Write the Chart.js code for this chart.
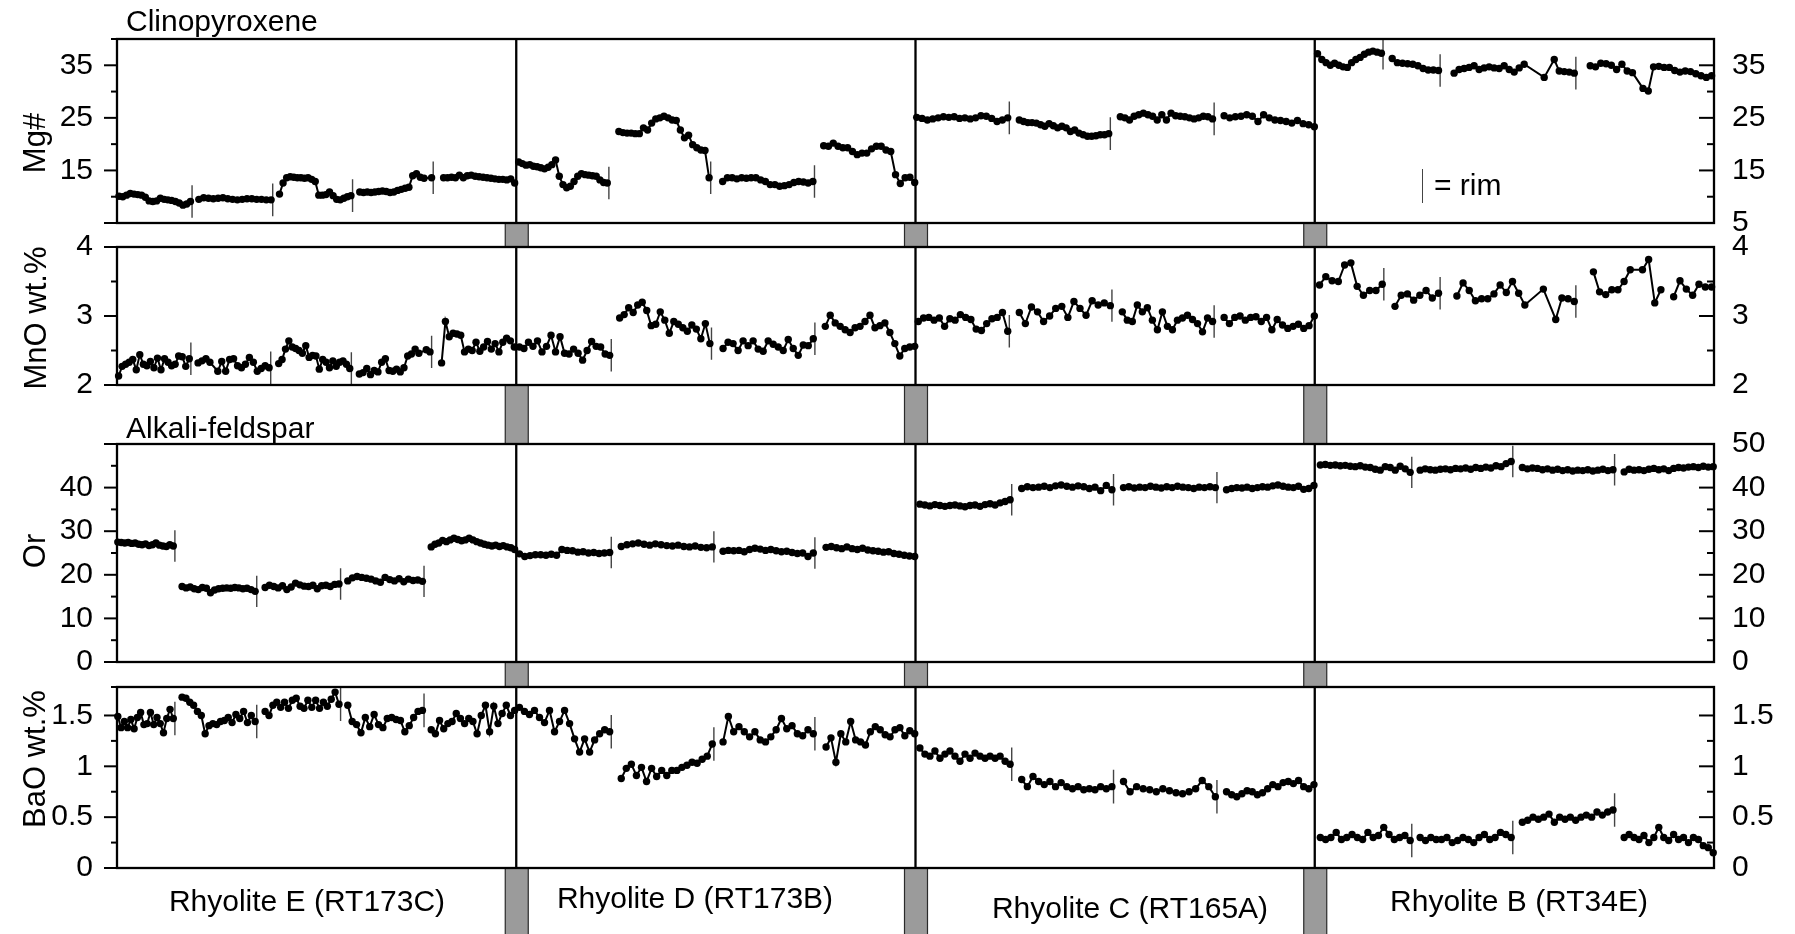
<!DOCTYPE html>
<html>
<head>
<meta charset="utf-8">
<script src="https://cdn.jsdelivr.net/npm/chart.js@4.4.1/dist/chart.umd.min.js"></script>
<style>
  body { margin: 0; background: #fff; width: 1795px; height: 934px; position: relative; overflow: hidden;
         font-family: "Liberation Sans", Arial, Helvetica, sans-serif; }
  canvas { position: absolute; left: 0; }
  .lbl { position: absolute; font-size: 30px; line-height: 1; color: #000; white-space: nowrap; }
  .mid { transform: translateX(-50%); }
  .rot { font-size: 31px; transform: translate(-50%, -50%) rotate(-90deg); }
  .rimkey { position: absolute; width: 0; border-left: 1.5px solid #444; }
</style>
</head>
<body>
<canvas id="mgChart" width="1795" height="235" style="top:0px"></canvas>
<canvas id="mnoChart" width="1795" height="180" style="top:235px"></canvas>
<canvas id="orChart" width="1795" height="260" style="top:415px"></canvas>
<canvas id="baoChart" width="1795" height="259" style="top:675px"></canvas>

<div class="lbl" style="left:126px; top:6px">Clinopyroxene</div>
<div class="lbl" style="left:126px; top:413px">Alkali-feldspar</div>
<div class="lbl rot" style="left:34px; top:143px">Mg#</div>
<div class="lbl rot" style="left:35px; top:318px">MnO wt.%</div>
<div class="lbl rot" style="left:34px; top:551px">Or</div>
<div class="lbl rot" style="left:34px; top:759px">BaO wt.%</div>
<div class="rimkey" style="left:1422px; top:169px; height:34px"></div>
<div class="lbl" style="left:1434px; top:170px">= rim</div>
<div class="lbl mid" style="left:307px; top:886px">Rhyolite E (RT173C)</div>
<div class="lbl mid" style="left:695px; top:883px">Rhyolite D (RT173B)</div>
<div class="lbl mid" style="left:1130px; top:893px">Rhyolite C (RT165A)</div>
<div class="lbl mid" style="left:1519px; top:886px">Rhyolite B (RT34E)</div>

<script>
const FONT = '"Liberation Sans", Arial, Helvetica, sans-serif';

// x runs 0-400, one block of 100 per rhyolite (E, D, C, B)
const sectionEdges = [100, 200, 300];

// clinopyroxene traverses, Mg#
const cpxStart = [0.5, 20.5, 40.7, 60.8, 81.8, 100.6, 125.7, 151.7, 177.0, 200.3, 226.0, 251.3, 277.3, 300.7, 319.4, 334.9, 369.0];
const cpxEnd = [18.4, 38.6, 58.6, 78.8, 99.6, 122.8, 148.3, 174.3, 199.8, 223.1, 248.4, 274.4, 299.9, 316.7, 331.0, 365.0, 399.4];
const cpxRim = [1, 1, 1, 1, 0, 1, 1, 1, 0, 1, 1, 1, 0, 1, 1, 1, 0];
const mgValues = [
  [10.1, 10.0, 10.3, 10.6, 10.5, 10.4, 10.3, 9.9, 9.2, 9.1, 9.2, 9.7, 9.5, 9.4, 9.3, 9.1, 8.8, 8.4, 8.6, 9.1],
  [9.5, 9.8, 9.7, 9.6, 9.7, 9.8, 9.6, 9.5, 9.4, 9.5, 9.6, 9.6, 9.5, 9.5, 9.4, 9.4],
  [10.5, 12.6, 13.6, 13.8, 13.7, 13.6, 13.6, 13.5, 13.6, 13.3, 12.9, 10.3, 10.3, 10.4, 10.9, 10.2, 9.5, 9.4, 9.7, 10.0, 10.2],
  [10.9, 10.8, 10.9, 10.8, 10.9, 11.0, 11.1, 11.0, 10.8, 10.9, 11.2, 11.4, 11.6, 11.8, 14.0, 14.4, 13.7, 13.5, null, 13.6],
  [13.6, 13.6, 13.7, 13.6, 14.1, 13.6, 14.0, 14.1, 13.9, 13.8, 13.7, 13.6, 13.5, 13.4, 13.3, 13.3, 13.2, 13.4, 12.6],
  [16.6, 16.3, 16.0, 16.1, 15.8, 15.7, 15.5, 15.3, 15.6, 16.1, 17.0, 13.9, 12.3, 11.7, 12.0, 12.9, 13.9, 14.4, 14.2, 14.1, 14.0, 13.9, 13.2, 12.7, 12.6],
  [22.4, 22.2, 22.1, 22.1, 22.0, 22.0, 23.1, 22.7, 24.0, 24.8, 25.0, 25.3, 25.0, 24.6, 24.5, 22.7, 21.2, 21.7, 19.9, 19.3, 18.9, 18.8, 13.6],
  [12.9, 13.6, 13.6, 13.4, 13.6, 13.5, 13.6, 13.6, 13.2, 12.9, 12.3, 12.3, 12.0, 12.1, 12.3, 12.7, 12.9, 12.8, 12.6, 12.9],
  [19.7, 19.6, 20.2, 19.6, 19.3, 19.3, 18.6, 18.0, 18.3, 18.3, 19.1, 19.6, 19.6, 18.9, 18.6, 14.2, 12.5, 13.6, 13.7, 12.7],
  [25.1, 24.9, 24.6, 24.8, 25.0, 25.2, 25.1, 25.2, 24.9, 25.0, 24.8, 25.0, 25.4, 25.3, 24.9, 24.3, 24.6, 25.0],
  [24.6, 24.3, 24.1, 24.1, 24.0, 23.7, 23.4, 23.9, 23.5, 23.1, 23.4, 23.1, 22.4, 22.7, 22.1, 21.8, 21.5, 21.5, 21.6, 21.8, 21.8, 22.0],
  [25.2, 25.0, 24.6, 25.3, 25.6, 25.9, 25.6, 25.3, 24.6, 25.6, 24.6, 25.9, 25.4, 25.3, 25.2, 25.0, 24.8, 25.0, 25.3, 25.2, 24.8],
  [25.4, 25.0, 25.2, 25.3, 25.6, 25.3, 24.3, 25.6, 25.0, 24.6, 24.5, 24.3, 24.0, 24.5, 23.9, 23.7, 23.3],
  [37.2, 36.1, 35.5, 35.0, 35.4, 35.0, 34.7, 34.6, 35.5, 36.1, 36.5, 37.1, 37.5, 37.7, 37.5, 37.3],
  [36.3, 35.5, 35.4, 35.3, 35.2, 34.9, 34.4, 34.1, 34.1, 34.0],
  [33.5, 34.2, 34.4, 34.6, 34.9, 34.2, 34.5, 34.7, 34.5, 34.4, 34.9, 34.2, 33.7, 34.5, 35.2, null, null, null, 32.7, null, 36.1, 33.9, 33.8, 33.7, 33.5],
  [34.9, 34.7, 35.4, 35.3, 35.0, 34.2, 35.2, 33.9, 33.6, null, 30.6, 30.1, 34.7, 34.8, 34.6, 34.6, 34.0, 33.7, 33.9, 33.8, 33.4, 33.0, 32.7, 33.0]
];

// clinopyroxene traverses, MnO wt.%
const mnoStart = [0.4, 20.3, 40.5, 60.7, 81.3, 100.8, 125.9, 151.8, 177.4, 200.7, 226.0, 251.8, 277.3, 301.2, 320.1, 335.6, 369.8, 389.9];
const mnoEnd = [18.1, 38.1, 58.3, 78.4, 99.5, 123.4, 148.5, 174.4, 199.8, 223.1, 248.8, 274.4, 299.9, 316.9, 331.0, 365.0, 386.7, 399.4];
const mnoRim = [1, 1, 1, 1, 0, 1, 1, 1, 0, 1, 1, 1, 0, 1, 1, 1, 0, 0];
const mnoValues = [
  [2.13, 2.27, 2.30, 2.33, 2.37, 2.22, 2.44, 2.30, 2.28, 2.34, 2.25, 2.39, 2.22, 2.38, 2.33, 2.28, 2.30, 2.42, 2.41, 2.27, 2.38],
  [2.32, 2.35, 2.38, 2.33, null, 2.20, 2.34, 2.20, 2.37, 2.38, 2.28, 2.25, 2.30, 2.40, 2.33, 2.20, 2.24, 2.28, 2.25],
  [2.31, 2.37, 2.52, 2.64, 2.55, 2.53, 2.50, 2.46, 2.57, 2.40, 2.43, 2.42, 2.23, 2.37, 2.33, 2.25, 2.35, 2.27, 2.33, 2.35, 2.30, 2.24],
  [2.16, 2.18, 2.24, 2.15, 2.21, 2.19, 2.33, 2.38, 2.21, 2.20, 2.23, 2.19, 2.25, 2.42, 2.45, 2.52, 2.46, null, 2.51, 2.48],
  [2.32, 2.92, 2.70, 2.75, 2.74, 2.72, 2.48, 2.52, 2.50, 2.62, 2.49, 2.55, 2.63, 2.52, 2.60, 2.48, 2.62, 2.68, 2.64, 2.55],
  [2.55, 2.53, 2.62, 2.56, 2.64, 2.48, 2.56, 2.72, 2.48, 2.70, 2.46, 2.45, 2.52, 2.46, 2.36, 2.50, 2.63, 2.56, 2.55, 2.45, 2.43],
  [2.97, 3.02, 3.12, 3.05, 3.16, 3.20, 3.08, 2.86, 2.88, 3.06, 2.94, 2.75, 2.92, 2.88, 2.83, 2.78, 2.87, 2.81, 2.67, 2.89, 2.60],
  [2.53, 2.62, 2.60, 2.50, 2.64, 2.57, 2.64, 2.52, 2.49, 2.64, 2.59, 2.55, 2.50, 2.66, 2.53, 2.43, 2.58, 2.57, 2.67],
  [2.85, 3.01, 2.90, 2.85, 2.80, 2.76, 2.83, 2.85, 2.92, 3.01, 2.83, 2.86, 2.90, 2.76, 2.60, 2.42, 2.53, 2.55, 2.56],
  [2.92, 2.97, 2.98, 2.94, 2.97, 2.85, 2.96, 2.94, 3.02, 2.98, 2.95, 2.81, 2.79, 2.89, 2.96, 2.98, 3.05, 2.78],
  [3.05, 2.89, 3.13, 3.06, 2.92, 3.00, 3.11, 3.14, 2.98, 3.21, 3.11, 3.01, 3.22, 3.16, 3.19, 3.15],
  [3.06, 2.94, 2.92, 3.16, 3.06, 3.12, 2.94, 2.80, 3.06, 2.85, 2.80, 2.94, 2.97, 3.01, 2.95, 2.89, 2.77, 2.97, 2.92],
  [2.98, 2.89, 2.98, 3.00, 2.94, 2.98, 2.99, 2.92, 2.98, 2.80, 2.95, 2.87, 2.82, 2.85, 2.88, 2.82, 2.86, 3.00],
  [3.45, 3.57, 3.51, 3.50, 3.74, 3.77, 3.43, 3.30, 3.37, 3.37, 3.46],
  [3.14, 3.30, 3.32, 3.23, 3.30, 3.37, 3.26, 3.33],
  [3.29, 3.48, 3.37, 3.22, 3.25, 3.25, 3.32, 3.45, 3.34, 3.50, 3.33, 3.16, null, null, 3.39, null, 2.95, 3.26, 3.25, 3.21],
  [3.64, 3.35, 3.31, 3.38, 3.38, 3.50, 3.67, null, 3.67, 3.82, 3.19, 3.38],
  [3.28, 3.51, 3.39, 3.30, 3.46, 3.42, 3.42]
];

// alkali-feldspar traverses, shared by Or and BaO
const fspStart = [0.2, 16.3, 37.1, 57.8, 78.7, 100.8, 126.3, 151.8, 177.6, 201.1, 226.6, 252.1, 277.9, 301.4, 326.4, 352.0, 377.5];
const fspEnd = [14.1, 34.6, 55.6, 76.5, 99.6, 123.4, 149.1, 174.4, 199.8, 223.7, 249.2, 275.1, 299.8, 323.9, 349.2, 374.7, 399.8];
const fspRim = [1, 1, 1, 1, 0, 1, 1, 1, 0, 1, 1, 1, 0, 1, 1, 1, 0];
const orValues = [
  [27.5, 27.4, 27.3, 27.4, 27.2, 27.3, 27.0, 26.9, 27.1, 26.7, 26.9, 27.3, 26.8, 26.6, 26.5, 26.9, 26.6],
  [17.3, 17.0, 17.2, 16.8, 16.6, 17.1, 16.9, 15.9, 16.5, 16.8, 16.9, 17.0, 16.9, 17.1, 17.0, 16.8, 16.9, 16.6, 16.2],
  [17.1, 17.6, 17.3, 17.0, 17.5, 16.6, 17.2, 18.1, 17.7, 17.4, 17.3, 17.6, 16.8, 17.5, 17.6, 17.3, 17.8, 17.9],
  [18.6, 19.3, 19.6, 19.4, 19.2, 19.0, 18.6, 18.3, 19.4, 18.9, 18.6, 19.1, 18.4, 19.0, 18.7, 18.8, 18.5],
  [26.4, 27.0, 27.3, 27.9, 27.6, 28.0, 28.4, 28.1, 27.8, 28.0, 28.4, 28.0, 27.6, 27.3, 27.0, 26.8, 26.6, 26.8, 26.5, 26.7, 26.4, 26.2, 25.8],
  [24.8, 24.2, 24.4, 24.6, 24.6, 24.5, 24.7, 24.5, 25.8, 25.6, 25.5, 25.2, 25.3, 25.0, 25.1, 24.9, 25.0, 25.1],
  [26.5, 26.9, 27.1, 27.3, 27.0, 26.8, 27.1, 26.9, 26.7, 26.6, 26.8, 26.5, 26.4, 26.6, 26.3, 26.2, 26.4],
  [25.4, 25.6, 25.5, 25.6, 25.3, 25.8, 26.1, 25.9, 25.6, 25.8, 25.5, 25.3, 25.4, 25.1, 24.9, 25.0, 24.2, 25.0],
  [26.3, 26.5, 26.2, 26.0, 26.4, 26.0, 25.8, 26.1, 25.7, 25.5, 25.4, 25.2, 25.3, 24.9, 24.7, 24.5, 24.3, 24.2],
  [36.2, 36.0, 35.8, 36.1, 35.9, 35.7, 35.9, 36.0, 35.8, 35.6, 35.9, 36.0, 35.7, 36.1, 36.3, 36.0, 36.5, 36.8, 37.2],
  [39.8, 40.2, 40.0, 40.1, 40.3, 40.0, 40.4, 40.6, 40.3, 40.1, 40.4, 40.2, 39.8, 40.1, 39.3, 40.5, 39.5],
  [40.0, 40.2, 39.9, 40.1, 40.0, 40.3, 40.1, 39.9, 40.2, 40.0, 40.3, 40.1, 40.0, 39.8, 40.1, 40.0, 40.2, 40.0],
  [39.5, 39.8, 40.0, 39.9, 40.1, 39.8, 40.0, 40.2, 40.1, 40.4, 40.6, 40.3, 40.1, 40.0, 40.3, 39.6, 39.8, 40.5],
  [45.2, 45.3, 45.1, 45.2, 45.0, 45.1, 44.9, 44.8, 45.0, 44.7, 44.6, 44.2, 44.0, 44.8, 44.6, 44.0, 44.9, 44.3, 43.5],
  [44.0, 44.3, 44.1, 44.0, 44.2, 44.3, 44.1, 44.4, 44.3, 44.5, 44.2, 44.6, 44.4, 44.7, 44.5, 45.0, 44.8, 45.5, 46.0],
  [44.6, 44.3, 44.5, 44.4, 44.1, 44.3, 44.0, 44.2, 43.9, 44.1, 43.8, 44.0, 43.9, 44.1, 43.8, 44.0, 44.2, 43.9, 44.1],
  [43.6, 44.2, 44.0, 44.1, 43.9, 44.2, 44.4, 44.1, 44.3, 43.9, 44.4, 44.6, 44.5, 44.7, 44.8, 44.6, 44.9, 44.7, 44.8]
];
const baoValues = [
  [1.49, 1.38, 1.44, 1.38, 1.46, 1.37, 1.48, 1.53, 1.41, 1.42, 1.53, 1.41, 1.48, 1.42, 1.33, 1.47, 1.56, 1.47],
  [1.68, 1.67, 1.63, 1.60, 1.54, 1.50, 1.32, 1.40, 1.42, 1.41, 1.44, 1.45, 1.48, 1.43, 1.51, 1.47, 1.54, 1.43, 1.50, 1.44],
  [1.54, 1.50, 1.60, 1.63, 1.58, 1.63, 1.57, 1.65, 1.67, 1.59, 1.57, 1.65, 1.58, 1.65, 1.57, 1.63, 1.59, 1.66, 1.73, 1.61],
  [1.60, 1.44, 1.41, 1.33, 1.48, 1.39, 1.51, 1.41, 1.38, 1.47, 1.48, 1.46, 1.45, 1.34, 1.40, 1.48, 1.54, 1.55],
  [1.36, 1.32, 1.45, 1.37, 1.42, 1.44, 1.52, 1.47, 1.42, 1.47, 1.44, 1.32, 1.50, 1.60, 1.34, 1.59, 1.42, 1.52, 1.60, 1.50, 1.55],
  [1.58, 1.54, 1.51, 1.55, 1.48, 1.43, 1.55, 1.34, 1.44, 1.55, 1.42, 1.27, 1.14, 1.27, 1.14, 1.26, 1.32, 1.36, 1.34],
  [0.88, 0.98, 1.02, 0.91, 0.99, 0.85, 0.98, 0.90, 0.96, 0.91, 0.96, 0.96, 0.99, 1.01, 1.04, 1.03, 1.07, 1.10, 1.22],
  [1.24, 1.49, 1.34, 1.39, 1.34, 1.29, 1.34, 1.26, 1.24, 1.29, 1.36, 1.47, 1.37, 1.40, 1.32, 1.30, 1.36, 1.32],
  [1.19, 1.28, 1.04, 1.32, 1.24, 1.44, 1.26, 1.24, 1.21, 1.34, 1.39, 1.36, 1.31, 1.29, 1.36, 1.38, 1.30, 1.35, 1.32],
  [1.18, 1.12, 1.10, 1.15, 1.08, 1.12, 1.15, 1.10, 1.05, 1.12, 1.08, 1.13, 1.10, 1.08, 1.10, 1.08, 1.10, 1.05, 1.02],
  [0.87, 0.80, 0.90, 0.85, 0.82, 0.85, 0.80, 0.84, 0.80, 0.78, 0.80, 0.77, 0.78, 0.77, 0.80, 0.78, 0.80],
  [0.85, 0.75, 0.80, 0.78, 0.77, 0.75, 0.78, 0.76, 0.74, 0.73, 0.75, 0.78, 0.86, 0.80, 0.70],
  [0.75, 0.72, 0.70, 0.73, 0.76, 0.75, 0.72, 0.74, 0.78, 0.82, 0.80, 0.84, 0.85, 0.83, 0.86, 0.80, 0.78, 0.82],
  [0.30, 0.28, 0.30, 0.35, 0.28, 0.30, 0.33, 0.30, 0.28, 0.35, 0.30, 0.32, 0.40, 0.33, 0.28, 0.30, 0.32, 0.27],
  [0.30, 0.27, 0.30, 0.28, 0.28, 0.30, 0.25, 0.27, 0.30, 0.28, 0.25, 0.30, 0.33, 0.28, 0.30, 0.35, 0.33, 0.30],
  [0.45, 0.47, 0.50, 0.48, 0.50, 0.53, 0.45, 0.50, 0.48, 0.50, 0.47, 0.50, 0.52, 0.50, 0.55, 0.52, 0.55, 0.57],
  [0.30, 0.33, 0.30, 0.28, 0.32, 0.25, 0.30, 0.40, 0.30, 0.27, 0.33, 0.28, 0.30, 0.25, 0.30, 0.28, 0.22, 0.20, 0.15]
];

// tick labels shown on each side
const mgLeftLabels = [15, 25, 35];
const mgRightLabels = [5, 15, 25, 35];
const mnoLabels = [2, 3, 4];
const orLeftLabels = [0, 10, 20, 30, 40];
const orRightLabels = [0, 10, 20, 30, 40, 50];
const baoLabels = [0, 0.5, 1, 1.5];

function traverseSets(starts, ends, values, rims, rimHalf) {
  const sets = [];
  const rimPts = [];
  values.forEach((vals, i) => {
    const step = (ends[i] - starts[i]) / (vals.length - 1);
    sets.push({
      data: vals.map((v, k) => ({ x: starts[i] + k * step, y: v })),
      borderColor: '#000',
      backgroundColor: '#000',
      borderWidth: 2,
      pointRadius: 3.7,
      pointBorderWidth: 0,
      pointBackgroundColor: '#000',
      spanGaps: true,
      clip: 8
    });
    if (rims[i]) {
      const last = vals[vals.length - 1];
      const rx = ends[i] + 0.4;
      rimPts.push({ x: rx, y: last - rimHalf }, { x: rx, y: last + rimHalf }, { x: rx, y: null });
    }
  });
  sets.push({ data: rimPts, borderColor: '#444', borderWidth: 1.4, pointRadius: 0, spanGaps: false });
  return sets;
}

const decor = {
  id: 'decor',
  beforeDatasetsDraw(chart, args, o) {
    const { ctx, chartArea: a } = chart;
    const xs = chart.scales.x;
    ctx.save();
    sectionEdges.forEach((e) => {
      const px = xs.getPixelForValue(e);
      const spans = [];
      if (o.barAbove) spans.push([0, a.top]);
      if (o.barBelow) spans.push([a.bottom, chart.height]);
      spans.forEach(([y0, y1]) => {
        ctx.fillStyle = '#9b9b9b';
        ctx.fillRect(px - 11, y0, 23, y1 - y0);
        ctx.strokeStyle = '#2a2a2a';
        ctx.lineWidth = 1.2;
        ctx.beginPath();
        ctx.moveTo(px - 11, y0); ctx.lineTo(px - 11, y1);
        ctx.moveTo(px + 12, y0); ctx.lineTo(px + 12, y1);
        ctx.stroke();
      });
    });
    ctx.restore();
  },
  afterDatasetsDraw(chart, args, o) {
    const { ctx, chartArea: a } = chart;
    const xs = chart.scales.x;
    ctx.save();
    ctx.strokeStyle = '#000';
    ctx.lineWidth = 2.3;
    ctx.strokeRect(a.left, a.top, a.right - a.left, a.bottom - a.top);
    ctx.beginPath();
    sectionEdges.forEach((e) => {
      const px = xs.getPixelForValue(e);
      ctx.moveTo(px, a.top);
      ctx.lineTo(px, a.bottom);
    });
    ctx.stroke();
    ctx.lineWidth = 2;
    ['y', 'y2'].forEach((id) => {
      const s = chart.scales[id];
      s.ticks.forEach((t) => {
        const r = (t.value - o.majorBase) / o.majorStep;
        const major = Math.abs(r - Math.round(r)) < 1e-6;
        const py = s.getPixelForValue(t.value);
        ctx.beginPath();
        if (id === 'y') {
          ctx.moveTo(a.left - (major ? 13 : 6), py);
          ctx.lineTo(a.left, py);
        } else {
          ctx.moveTo(a.right - (major ? 15 : 7), py);
          ctx.lineTo(a.right, py);
        }
        ctx.stroke();
      });
    });
    ctx.restore();
  }
};

function showOnly(list) {
  return (v) => (list.some((s) => Math.abs(s - v) < 1e-6) ? String(v) : '');
}

// fixed axis box: no extra vertical padding for the edge labels
function fixAxis(width) {
  return (s) => {
    s.width = width;
    s.paddingTop = 0;
    s.paddingBottom = 0;
  };
}

function makeChart(id, cfg) {
  const tickFont = { family: FONT, size: 30 };
  return new Chart(document.getElementById(id), {
    type: 'line',
    data: { datasets: cfg.datasets },
    options: {
      responsive: false,
      animation: false,
      devicePixelRatio: 1,
      layout: { autoPadding: false, padding: { top: cfg.padTop, bottom: cfg.padBottom, left: 0, right: 0 } },
      elements: { line: { tension: 0 } },
      plugins: {
        legend: { display: false },
        tooltip: { enabled: false },
        decor: { barAbove: cfg.barAbove, barBelow: cfg.barBelow, majorBase: cfg.majorBase, majorStep: cfg.majorStep }
      },
      scales: {
        x: { type: 'linear', min: 0, max: 400, display: false },
        y: {
          position: 'left', min: cfg.min, max: cfg.max,
          grid: { display: false }, border: { display: false },
          ticks: { stepSize: cfg.step, autoSkip: false, padding: 16, color: '#000', font: tickFont, callback: showOnly(cfg.leftLabels) },
          afterFit: fixAxis(117)
        },
        y2: {
          position: 'right', min: cfg.min, max: cfg.max,
          grid: { display: false }, border: { display: false },
          ticks: { stepSize: cfg.step, autoSkip: false, padding: 10, color: '#000', font: tickFont, callback: showOnly(cfg.rightLabels) },
          afterFit: fixAxis(81)
        }
      }
    },
    plugins: [decor]
  });
}

makeChart('mgChart', {
  datasets: traverseSets(cpxStart, cpxEnd, mgValues, cpxRim, 3.1),
  min: 5, max: 40, step: 5, majorBase: 5, majorStep: 10,
  leftLabels: mgLeftLabels, rightLabels: mgRightLabels,
  padTop: 39, padBottom: 12, barAbove: false, barBelow: true
});

makeChart('mnoChart', {
  datasets: traverseSets(mnoStart, mnoEnd, mnoValues, mnoRim, 0.235),
  min: 2, max: 4, step: 0.5, majorBase: 0, majorStep: 1,
  leftLabels: mnoLabels, rightLabels: mnoLabels,
  padTop: 12, padBottom: 30, barAbove: true, barBelow: true
});

makeChart('orChart', {
  datasets: traverseSets(fspStart, fspEnd, orValues, fspRim, 3.6),
  min: 0, max: 50, step: 5, majorBase: 0, majorStep: 10,
  leftLabels: orLeftLabels, rightLabels: orRightLabels,
  padTop: 29, padBottom: 13, barAbove: true, barBelow: true
});

makeChart('baoChart', {
  datasets: traverseSets(fspStart, fspEnd, baoValues, fspRim, 0.165),
  min: 0, max: 1.78, step: 0.25, majorBase: 0, majorStep: 0.5,
  leftLabels: baoLabels, rightLabels: baoLabels,
  padTop: 12, padBottom: 66, barAbove: true, barBelow: true
});
</script>
</body>
</html>
